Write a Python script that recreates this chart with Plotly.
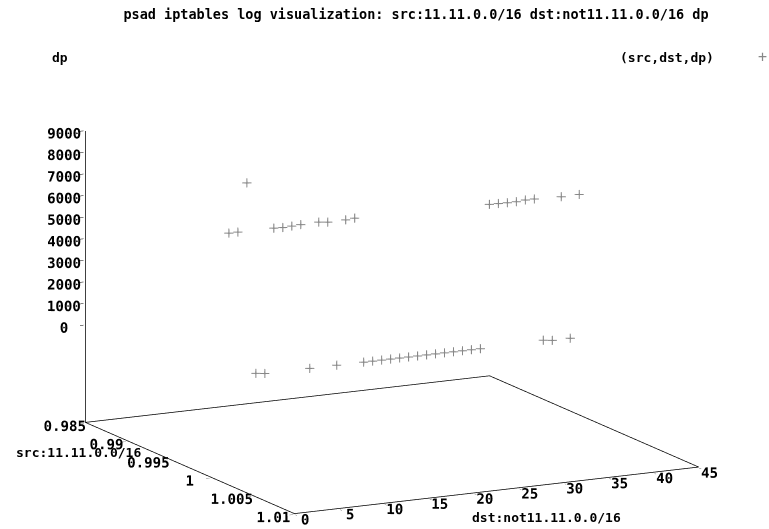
import plotly.graph_objects as go

# ---- data ----
src = [1, 1, 1, 1, 1, 1, 1, 1, 1, 1,
       1, 1, 1, 1, 1, 1, 1, 1, 1, 1,
       1, 1, 1, 1, 1, 1, 1, 1, 1, 1,
       1, 1, 1, 1, 1, 1, 1, 1, 1, 1]
dst = [2, 3, 4, 5, 6, 7, 8, 9, 10, 11,
       12, 13, 14, 15, 16, 17, 18, 19, 20, 21,
       22, 23, 24, 25, 26, 27, 28, 29, 30, 31,
       32, 33, 34, 35, 36, 37, 38, 39, 40, 41]
dp = [6720, 6720, 8950, 80, 25, 6710, 6690, 6710, 6730, 21,
      6750, 6700, 25, 6710, 6740, 22, 22, 22, 22, 22,
      22, 22, 22, 22, 22, 22, 22, 22, 22, 6660,
      6650, 6640, 6640, 6670, 6670, 80, 25, 6630, 25, 6640]

src_ticks = [0.985, 0.99, 0.995, 1, 1.005, 1.01]
src_ticktext = ["0.985", "0.99", "0.995", "1", "1.005", "1.01"]
dst_ticks = [0, 5, 10, 15, 20, 25, 30, 35, 40, 45]
dp_ticks = [0, 1000, 2000, 3000, 4000, 5000, 6000, 7000, 8000, 9000]

title = "psad iptables log visualization: src:11.11.0.0/16 dst:not11.11.0.0/16 dp"

# axis ranges (gnuplot puts the base plane half a z-range below zmin)
SRC_RANGE = [0.985, 1.01]
DST_RANGE = [0, 45]
DP_MIN, DP_MAX = 0, 9000
BASE_Z = DP_MIN - 0.5 * (DP_MAX - DP_MIN)


def padded(lo, hi, f=0.003):
    d = (hi - lo) * f
    return [lo - d, hi + d]


FONT = "DejaVu Sans Mono"
W, H = 769, 529

fig = go.Figure()

# frame: base plane border + vertical z axis line at back-left corner
x0, x1 = SRC_RANGE
y0, y1 = DST_RANGE
fig.add_trace(go.Scatter3d(
    x=[x0, x1, x1, x0, x0, None, x0, x0],
    y=[y0, y0, y1, y1, y0, None, y0, y0],
    z=[BASE_Z] * 5 + [None, BASE_Z, DP_MAX],
    mode="lines",
    line=dict(color="black", width=1.5),
    hoverinfo="skip",
    showlegend=False,
))

fig.add_trace(go.Scatter3d(
    x=src, y=dst, z=dp,
    mode="markers",
    marker=dict(symbol="cross", size=5, color="#888888"),
    name="(src,dst,dp)",
    showlegend=False,
))

axis_common = dict(
    showgrid=False, zeroline=False, showbackground=False,
    showspikes=False, showline=False,
    ticks="inside", ticklen=4, tickcolor="black", tickangle=0,
    tickfont=dict(family=FONT, size=13, color="black", weight="bold"),
    title=dict(text=""),
)

SCALE = 2.0
eye_dir = (0.8667, -0.4455, 0.2243)


def px(x, y):
    return dict(x=x / W, y=1 - y / H, xref="paper", yref="paper", showarrow=False)


fig.update_layout(
    width=W, height=H,
    margin=dict(l=0, r=0, t=0, b=0),
    paper_bgcolor="white",
    font=dict(family=FONT, size=13, color="black"),
    title=dict(text="<b>" + title + "</b>", x=416 / W, xanchor="center", y=1 - 14 / H,
               yanchor="middle", font=dict(family=FONT, size=13.5, color="black")),
    scene=dict(
        domain=dict(x=[0.02, 1.0], y=[0.0, 0.87]),
        xaxis=dict(range=padded(*SRC_RANGE), tickvals=src_ticks, ticktext=src_ticktext,
                   **axis_common),
        yaxis=dict(range=padded(*DST_RANGE), tickvals=dst_ticks, **axis_common),
        zaxis=dict(range=padded(BASE_Z, DP_MAX), tickvals=dp_ticks, **axis_common),
        aspectmode="manual",
        aspectratio=dict(x=1.0 * SCALE, y=0.994 * SCALE, z=0.654 * SCALE),
        camera=dict(
            eye=dict(x=2 * eye_dir[0], y=2 * eye_dir[1], z=2 * eye_dir[2]),
            up=dict(x=0, y=0, z=1),
            center=dict(x=0, y=0, z=0),
            projection=dict(type="orthographic"),
        ),
    ),
    annotations=[
        dict(text="<b>dp</b>", xanchor="left", yanchor="middle", **px(50, 57)),
        dict(text="<b>(src,dst,dp)</b>", xanchor="right", yanchor="middle", **px(716, 57)),
        dict(text="+", xanchor="center", yanchor="middle",
             font=dict(family=FONT, size=15, color="#888888"), **px(762, 57)),
        dict(text="<b>src:11.11.0.0/16</b>", xanchor="left", yanchor="middle", **px(14, 452)),
        dict(text="<b>dst:not11.11.0.0/16</b>", xanchor="left", yanchor="middle", **px(470, 517)),
    ],
)

fig.write_html("out.html", config={"displayModeBar": False},
               post_script="document.body.style.margin='0';")
